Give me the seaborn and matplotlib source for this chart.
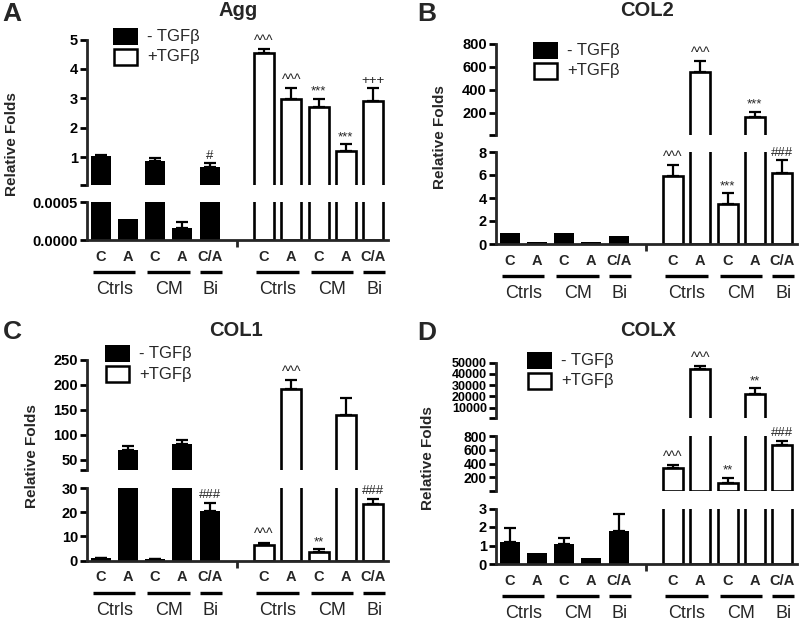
import numpy as np
import pandas as pd
import matplotlib.pyplot as plt
import matplotlib.transforms as mtransforms
from matplotlib.patches import Rectangle
import seaborn as sns

# x layout shared by every panel: 5 bars without TGFb, a gap, 5 bars with TGFb
pos_minus = [0, 1, 2, 3, 4]
pos_plus = [6, 7, 8, 9, 10]
bar_labels = ['C', 'A', 'C', 'A', 'C/A']
group_names = ['Ctrls', 'CM', 'Bi']
group_spans = [(0, 1), (2, 3), (4, 4)]

# Agg
agg_minus = [1.03, 0.00028, 0.88, 0.00016, 0.67]
agg_minus_err = [0.03, 0.0, 0.10, 0.00008, 0.12]
agg_plus = [4.55, 2.98, 2.69, 1.22, 2.92]
agg_plus_err = [0.12, 0.36, 0.28, 0.21, 0.42]
agg_minus_marks = ['', '', '', '', '#']
agg_plus_marks = ['^^^', '^^^', '***', '***', '+++']

# COL2
col2_minus = [1.0, 0.2, 0.98, 0.2, 0.7]
col2_minus_err = [0.0, 0.0, 0.0, 0.0, 0.0]
col2_plus = [5.95, 556, 3.45, 166, 6.15]
col2_plus_err = [0.9, 92, 0.95, 44, 1.15]
col2_minus_marks = ['', '', '', '', '']
col2_plus_marks = ['^^^', '^^^', '***', '***', '###']

# COL1
col1_minus = [1.0, 70, 0.6, 82, 20.5]
col1_minus_err = [0.1, 8.5, 0.1, 8, 3.4]
col1_plus = [6.4, 191, 3.6, 140, 23.3]
col1_plus_err = [1.0, 18, 1.0, 34, 2.2]
col1_minus_marks = ['', '', '', '', '###']
col1_plus_marks = ['^^^', '^^^', '**', '', '###']

# COLX
colx_minus = [1.2, 0.61, 1.08, 0.31, 1.8]
colx_minus_err = [0.73, 0.0, 0.34, 0.0, 0.9]
colx_plus = [330, 44000, 123, 21800, 670]
colx_plus_err = [50, 2900, 73, 5300, 62]
colx_minus_marks = ['', '', '', '', '']
colx_plus_marks = ['^^^', '^^^', '**', '**', '###']

sns.set_style('ticks')
plt.rcParams['font.family'] = ['Liberation Sans', 'DejaVu Sans']
plt.rcParams['font.weight'] = 'bold'

W, H = 800, 623
fig = plt.figure(figsize=(W / 100, H / 100), dpi=100)

mark_sizes = {'^': 10, '*': 9.5, '#': 9.5, '+': 9.5}


def px_axes(x0, x1, y0, y1):
    # Axes placed by pixel box (image coordinates, y going down)
    return fig.add_axes([x0 / W, 1 - y1 / H, (x1 - x0) / W, (y1 - y0) / H])


def fig_text(x, y, s, **kw):
    fig.text(x / W, 1 - y / H, s, **kw)


def fig_rect(x0, y0, x1, y1, **kw):
    fig.add_artist(Rectangle((x0 / W, 1 - y1 / H), (x1 - x0) / W, (y1 - y0) / H,
                             transform=fig.transFigure, **kw))


def draw_panel(p):
    minus, minus_err, plus, plus_err = p['minus'], p['minus_err'], p['plus'], p['plus_err']
    df = pd.DataFrame({'pos': pos_minus + pos_plus, 'val': minus + plus,
                       'err': minus_err + plus_err,
                       'mark': p['minus_marks'] + p['plus_marks'],
                       'treat': ['-'] * 5 + ['+'] * 5})
    axes = []
    nseg = len(p['segments'])
    for i, (top, bottom, ylim, ticks, tick_labels, tsize) in enumerate(p['segments']):
        ax = px_axes(p['left'], p['right'], top, bottom)
        # bars ending below this segment are flattened so no edge peeks in
        seg = df.copy()
        seg['shown'] = np.where(seg.val > ylim[0], seg.val, 0.0)
        sns.barplot(data=seg[seg.treat == '-'], x='pos', y='shown', native_scale=True,
                    color='black', saturation=1, width=0.735, errorbar=None,
                    linewidth=0, ax=ax)
        sns.barplot(data=seg[seg.treat == '+'], x='pos', y='shown', native_scale=True,
                    color='white', saturation=1, width=0.735, errorbar=None,
                    edgecolor='black', linewidth=1.9, ax=ax)
        # error bars only where they show inside this segment
        seg_err = df[(df.err > 0) & (df.val + df.err > ylim[0]) & (df.val < ylim[1])]
        if len(seg_err):
            ax.errorbar(seg_err.pos, seg_err.val, yerr=[np.zeros(len(seg_err)), seg_err.err],
                        fmt='none', ecolor='black', elinewidth=1.6, capsize=4, capthick=1.6)
        ax.set(xlabel='', ylabel='')
        ax.set_xlim(-0.5, 10.55)
        ax.set_ylim(*ylim)
        ax.set_facecolor('none')
        for side in ['top', 'right']:
            ax.spines[side].set_visible(False)
        ax.spines['left'].set_linewidth(2)
        # tick at the lower end of each upper segment, as in the broken axis
        if i < nseg - 1:
            ticks = [ylim[0]] + ticks
            tick_labels = [''] + tick_labels
        ax.set_yticks(ticks, tick_labels)
        ax.tick_params(axis='y', length=5, width=2, pad=1.5, labelsize=tsize, colors='black')
        if i < nseg - 1:
            ax.spines['bottom'].set_visible(False)
            ax.tick_params(axis='x', bottom=False, labelbottom=False)
        else:
            ax.spines['bottom'].set_linewidth(2)
            ax.set_xticks(pos_minus + pos_plus, bar_labels * 2)
            ax.set_xticks([5], minor=True)
            ax.tick_params(axis='x', which='major', length=0, pad=7, labelsize=10.5)
            ax.tick_params(axis='x', which='minor', length=5, width=2, bottom=True)
            # group lines and group names under the bar labels
            seg_h = bottom - top
            trans = mtransforms.blended_transform_factory(ax.transData, ax.transAxes)
            for offset in [0, 6]:
                for (a, b), name in zip(group_spans, group_names):
                    if a == b:
                        x0, x1 = a + offset - 0.35, a + offset + 0.45
                    else:
                        x0, x1 = a + offset - 0.28, b + offset + 0.28
                    ax.plot([x0, x1], [-32 / seg_h] * 2, transform=trans, color='black',
                            lw=2.4, clip_on=False, solid_capstyle='butt')
                    ax.text((x0 + x1) / 2, -50 / seg_h, name, transform=trans,
                            ha='center', va='center', fontsize=13, fontweight='normal')
        axes.append((ax, ylim))

    # significance marks above the error bars, in the segment holding the bar top
    for _, row in df.iterrows():
        if not row.mark:
            continue
        top_val = row.val + row.err
        for ax, ylim in axes:
            if ylim[0] < top_val <= ylim[1]:
                ax.annotate(row.mark, (row.pos, top_val), xytext=(0, 1),
                            textcoords='offset points', ha='center', va='bottom',
                            fontsize=mark_sizes[row.mark[0]], fontweight='normal')
                break

    fig_text(*p['letter_xy'], p['letter'], fontsize=19, ha='center', va='center')
    fig_text(*p['title_xy'], p['title'], fontsize=14.5, ha='center', va='center')
    fig_text(*p['ylabel_xy'], 'Relative Folds', fontsize=11, rotation=90,
             ha='center', va='center')
    lx, ly = p['legend_xy']
    fig_rect(lx, ly, lx + 25, ly + 17, facecolor='black', edgecolor='black', lw=0)
    fig_rect(lx + 1, ly + 21, lx + 24, ly + 37, facecolor='white', edgecolor='black', lw=1.8)
    fig_text(lx + 34, ly + 8.5, '- TGFβ', fontsize=12, fontweight='normal', va='center')
    fig_text(lx + 34, ly + 29, '+TGFβ', fontsize=12, fontweight='normal', va='center')


panels = [
    dict(letter='A', title='Agg', left=87, right=388,
         letter_xy=(12, 14), title_xy=(238, 11), ylabel_xy=(12, 144), legend_xy=(113, 28),
         segments=[(39.5, 185, (0.05, 5), [1, 2, 3, 4, 5], ['1', '2', '3', '4', '5'], 10.5),
                   (202, 240, (0, 0.0005), [0, 0.0005], ['0.0000', '0.0005'], 10.5)],
         minus=agg_minus, minus_err=agg_minus_err, plus=agg_plus, plus_err=agg_plus_err,
         minus_marks=agg_minus_marks, plus_marks=agg_plus_marks),
    dict(letter='B', title='COL2', left=496, right=797,
         letter_xy=(427, 14), title_xy=(647, 11), ylabel_xy=(440, 137), legend_xy=(533, 42),
         segments=[(43.5, 135, (8, 800), [200, 400, 600, 800], ['200', '400', '600', '800'], 10.5),
                   (152, 244, (0, 8), [0, 2, 4, 6, 8], ['0', '2', '4', '6', '8'], 10.5)],
         minus=col2_minus, minus_err=col2_minus_err, plus=col2_plus, plus_err=col2_plus_err,
         minus_marks=col2_minus_marks, plus_marks=col2_plus_marks),
    dict(letter='C', title='COL1', left=87, right=388,
         letter_xy=(12, 332), title_xy=(236, 331), ylabel_xy=(32, 456), legend_xy=(105, 345),
         segments=[(359.5, 470, (30, 250), [50, 100, 150, 200, 250],
                    ['50', '100', '150', '200', '250'], 10.5),
                   (488, 560.5, (0, 30), [0, 10, 20, 30], ['0', '10', '20', '30'], 10.5)],
         minus=col1_minus, minus_err=col1_minus_err, plus=col1_plus, plus_err=col1_plus_err,
         minus_marks=col1_minus_marks, plus_marks=col1_plus_marks),
    dict(letter='D', title='COLX', left=496, right=797,
         letter_xy=(427, 333), title_xy=(648, 331), ylabel_xy=(428, 458), legend_xy=(527, 352),
         segments=[(362.5, 418, (800, 50000), [10000, 20000, 30000, 40000, 50000],
                    ['10000', '20000', '30000', '40000', '50000'], 9),
                   (436, 491, (3, 800), [200, 400, 600, 800], ['200', '400', '600', '800'], 10),
                   (508.5, 564, (0, 3), [0, 1, 2, 3], ['0', '1', '2', '3'], 10.5)],
         minus=colx_minus, minus_err=colx_minus_err, plus=colx_plus, plus_err=colx_plus_err,
         minus_marks=colx_minus_marks, plus_marks=colx_plus_marks),
]

for p in panels:
    draw_panel(p)

fig.savefig('out.png', dpi=100, facecolor='white')
